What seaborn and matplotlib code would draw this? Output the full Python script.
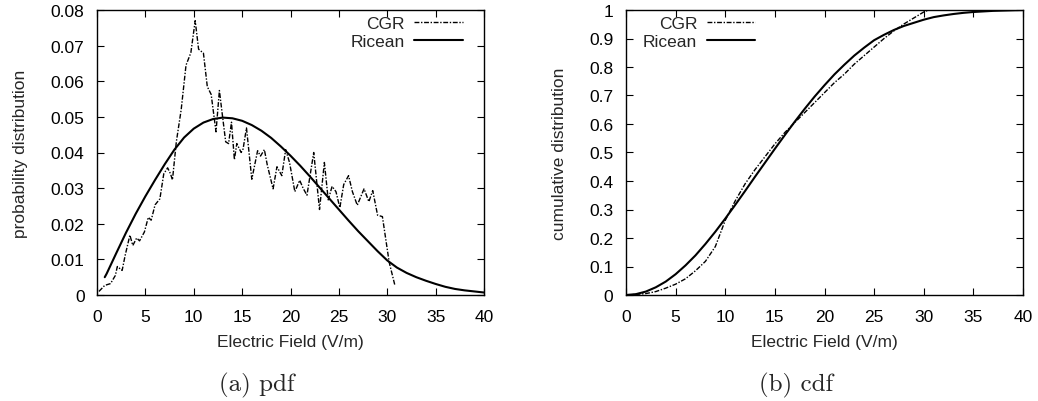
import matplotlib
matplotlib.use("Agg")
import matplotlib.pyplot as plt
from matplotlib.ticker import StrMethodFormatter, MultipleLocator
import seaborn as sns

# Measured CGR field histogram (probability per V/m)
cgr_pdf_x = [0.2, 0.8, 1.4, 1.9, 2.1, 2.6, 2.9, 3.4, 3.7, 4.1, 4.4, 4.9, 5.3, 5.6, 6.0,
             6.5, 6.9, 7.3, 7.6, 7.8, 8.2, 8.7, 9.2, 9.7, 10.15, 10.5, 11.0, 11.4, 11.8,
             12.3, 12.65, 12.95, 13.3, 13.6, 13.9, 14.2, 14.45, 14.9, 15.1, 15.45, 16.0,
             16.6, 16.9, 17.3, 17.6, 18.2, 18.6, 19.1, 19.5, 19.9, 20.45, 20.95, 21.3,
             21.7, 22.4, 23.0, 23.5, 23.9, 24.3, 24.7, 25.1, 25.5, 26.0, 26.4, 26.9,
             27.6, 28.1, 28.5, 29.0, 29.5, 30.2, 30.8]
cgr_pdf_y = [0.0010, 0.0027, 0.0032, 0.0055, 0.0080, 0.0069, 0.0110, 0.0168, 0.0139,
             0.0160, 0.0152, 0.0177, 0.0218, 0.0210, 0.0253, 0.0270, 0.0340, 0.0357,
             0.0340, 0.0323, 0.0430, 0.0520, 0.0645, 0.0680, 0.0770, 0.0690, 0.0679,
             0.0585, 0.0563, 0.0458, 0.0574, 0.0507, 0.0430, 0.0425, 0.0485, 0.0380,
             0.0425, 0.0400, 0.0410, 0.0469, 0.0325, 0.0405, 0.0390, 0.0408, 0.0365,
             0.0298, 0.0360, 0.0335, 0.0408, 0.0372, 0.0290, 0.0322, 0.0300, 0.0280,
             0.0400, 0.0240, 0.0372, 0.0267, 0.0305, 0.0290, 0.0245, 0.0310, 0.0335,
             0.0290, 0.0252, 0.0298, 0.0262, 0.0293, 0.0224, 0.0220, 0.0092, 0.0026]

# Fitted Ricean density
rice_pdf_x = [0.8, 1, 2, 3, 4, 5, 6, 7, 8, 9, 10, 11, 12, 13, 14, 15, 16, 17, 18, 19,
              20, 21, 22, 23, 24, 25, 26, 27, 28, 29, 30, 31, 32, 33, 34, 35, 36, 37,
              38, 39, 40]
rice_pdf_y = [0.0050, 0.0060, 0.0118, 0.0175, 0.0228, 0.0277, 0.0323, 0.0367, 0.0408,
              0.0442, 0.0467, 0.0484, 0.0494, 0.0498, 0.0496, 0.0489, 0.0477, 0.0461,
              0.0441, 0.0417, 0.0391, 0.0363, 0.0333, 0.0302, 0.0271, 0.0240, 0.0209,
              0.0179, 0.0151, 0.0123, 0.0097, 0.0077, 0.0062, 0.0050, 0.0040, 0.0031,
              0.0023, 0.0017, 0.0013, 0.0010, 0.0007]

# Cumulative distributions
cgr_cdf_x = [0, 1, 2, 3, 4, 5, 6, 7, 8, 9, 10, 11, 12, 13, 14, 15, 16, 17, 18, 19, 20,
             21, 22, 23, 24, 25, 26, 27, 28, 29, 30, 30.5]
cgr_cdf_y = [0.0, 0.002, 0.005, 0.012, 0.024, 0.038, 0.057, 0.085, 0.118, 0.170, 0.262,
             0.330, 0.390, 0.440, 0.485, 0.530, 0.570, 0.605, 0.640, 0.675, 0.710,
             0.745, 0.775, 0.810, 0.840, 0.870, 0.900, 0.927, 0.951, 0.972, 0.993, 1.0]

rice_cdf_x = list(range(0, 41))
rice_cdf_y = [0.0, 0.003, 0.012, 0.027, 0.047, 0.073, 0.104, 0.139, 0.179, 0.222, 0.268,
              0.316, 0.365, 0.415, 0.464, 0.513, 0.561, 0.608, 0.653, 0.696, 0.736,
              0.774, 0.808, 0.840, 0.868, 0.894, 0.913, 0.930, 0.944, 0.955, 0.966,
              0.975, 0.981, 0.986, 0.990, 0.993, 0.995, 0.997, 0.998, 0.999, 1.0]

x_ticks = [0, 5, 10, 15, 20, 25, 30, 35, 40]

sns.set_style("ticks")
plt.rcParams["font.family"] = ["Liberation Sans", "DejaVu Sans"]
plt.rcParams.update({
    "xtick.direction": "in", "ytick.direction": "in",
    "xtick.top": True, "ytick.right": True,
    "xtick.major.size": 5, "ytick.major.size": 5,
    "xtick.major.width": 0.8, "ytick.major.width": 0.8,
    "xtick.major.pad": 10, "ytick.major.pad": 9,
    "axes.linewidth": 1.0, "axes.edgecolor": "black",
    "xtick.color": "black", "ytick.color": "black",
    "font.size": 12.5,
})

dashdot = (0, (3.5, 1.2, 1.0, 1.2))
fs = 12.5

fig = plt.figure(figsize=(10.38, 4.02), dpi=100)
ax1 = fig.add_axes([97 / 1038, 106 / 402, 387 / 1038, 285 / 402])
ax2 = fig.add_axes([626 / 1038, 106 / 402, 397 / 1038, 285 / 402])

sns.lineplot(x=cgr_pdf_x, y=cgr_pdf_y, ax=ax1, color="black", lw=1.0,
             linestyle=dashdot, label="CGR")
sns.lineplot(x=rice_pdf_x, y=rice_pdf_y, ax=ax1, color="black", lw=1.5, label="Ricean")
ax1.set_ylim(0, 0.08)
ax1.yaxis.set_major_locator(MultipleLocator(0.01))
ax1.set_ylabel("probability distribution", fontsize=fs, labelpad=16)

sns.lineplot(x=cgr_cdf_x, y=cgr_cdf_y, ax=ax2, color="black", lw=1.0,
             linestyle=dashdot, label="CGR")
sns.lineplot(x=rice_cdf_x, y=rice_cdf_y, ax=ax2, color="black", lw=1.5, label="Ricean")
ax2.set_ylim(0, 1)
ax2.yaxis.set_major_locator(MultipleLocator(0.1))
ax2.set_ylabel("cumulative distribution", fontsize=fs, labelpad=16)

for ax in (ax1, ax2):
    ax.set_xlim(0, 40)
    ax.set_xticks(x_ticks)
    ax.yaxis.set_major_formatter(StrMethodFormatter("{x:g}"))
    ax.set_xlabel("Electric Field (V/m)", fontsize=fs, labelpad=7)
    ax.tick_params(labelsize=fs)

leg_kw = dict(loc="upper right", frameon=False, markerfirst=False, fontsize=12.5,
              handlelength=2.8, handletextpad=0.55, labelspacing=0.15, borderpad=0.0)
ax1.legend(bbox_to_anchor=(0.968, 1.01), **leg_kw)
ax2.legend(bbox_to_anchor=(0.348, 1.01), **leg_kw)

fig.text(257 / 1038, 1 - 385 / 402, "(a) pdf", family="cmr10", fontsize=18,
         ha="center", va="center")
fig.text(796 / 1038, 1 - 385 / 402, "(b) cdf", family="cmr10", fontsize=18,
         ha="center", va="center")

fig.savefig("out.png", dpi=100)
